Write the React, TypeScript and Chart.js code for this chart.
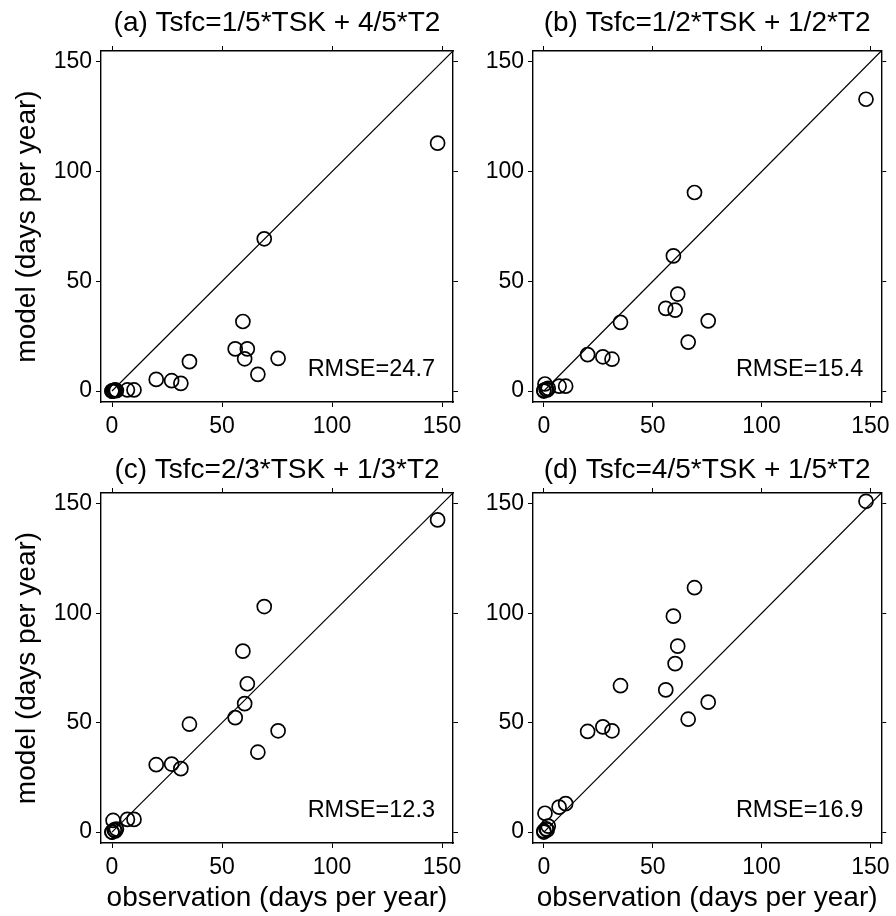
import React, { useEffect, useRef } from "react";
import { Chart, registerables } from "chart.js";

Chart.register(...registerables);

// Observed annual days, one entry per station
const observed = [148, 69.2, 59.5, 61.5, 60.3, 56, 35.2, 75.5, 66.3, 20.1, 27.1, 31.3, 10, 7, 0.5, 0, 1, 2, 0, 1.5];

// Modelled annual days for each blending of TSK and T2 (same station order)
const modelA = [113, 69.4, 31.7, 19.2, 14.7, 19.2, 13.4, 14.9, 7.6, 5.3, 4.7, 3.5, 0.5, 0.5, 0, 0, 0.3, 0.2, 0, 0.5];
const modelB = [133, 90.5, 61.6, 44.2, 36.9, 37.7, 31.3, 32.0, 22.3, 16.6, 15.6, 14.5, 2.2, 2.2, 3.2, 0.3, 0.8, 1.2, 0, 0.5];
const modelC = [142.7, 103.1, 82.7, 67.8, 58.7, 52.3, 49.3, 46.3, 36.5, 30.8, 31.1, 29.0, 5.8, 5.8, 5.3, 0, 1, 1.4, 0, 0.5];
const modelD = [151.2, 111.7, 98.7, 85.0, 77.0, 65.0, 66.9, 59.4, 51.6, 46.0, 48.1, 46.3, 13, 11.4, 8.6, 0.5, 1.5, 2.7, 0, 1];

const panelTitles = [
  "(a) Tsfc=1/5*TSK + 4/5*T2",
  "(b) Tsfc=1/2*TSK + 1/2*T2",
  "(c) Tsfc=2/3*TSK + 1/3*T2",
  "(d) Tsfc=4/5*TSK + 1/5*T2",
];
const rmseLabels = ["RMSE=24.7", "RMSE=15.4", "RMSE=12.3", "RMSE=16.9"];

const tickValues = [0, 50, 100, 150];
const axisRange = [-5, 155];
const diagonalEnds = [0, 155];

const xTitle = "observation (days per year)";
const yTitle = "model (days per year)";

const FONT = "'Liberation Sans', Arial, Helvetica, sans-serif";

type PanelSpec = {
  left: number;
  top: number;
  width: number;
  height: number;
  model: number[];
  title: string;
  rmse: string;
  yAxisWidth: number;
  rightGap: number;
  headTop: number;
  headBottom: number;
  xAxisHeight: number;
  showYTitle: boolean;
  showXTitle: boolean;
};

const rmsePlugin = {
  id: "rmseLabel",
  afterDatasetsDraw(chart: any, _args: any, opts: any) {
    const { ctx, chartArea } = chart;
    ctx.save();
    ctx.font = `23.5px ${FONT}`;
    ctx.fillStyle = "#000";
    ctx.textAlign = "right";
    ctx.textBaseline = "middle";
    ctx.fillText(opts.text, chartArea.right - 18, chartArea.bottom - 32);
    ctx.restore();
  },
};

function baseAxis(position: string) {
  return {
    type: "linear",
    position,
    min: axisRange[0],
    max: axisRange[1],
    afterBuildTicks: (s: any) => {
      s.ticks = tickValues.map((v) => ({ value: v }));
    },
    grid: {
      display: true,
      drawOnChartArea: false,
      drawTicks: true,
      tickLength: 5,
      color: "#000",
      lineWidth: 1,
    },
    border: { display: true, color: "#000", width: 1.4 },
  };
}

function buildConfig(spec: PanelSpec): any {
  const points = observed.map((x, i) => ({ x, y: spec.model[i] }));
  const diagonal = diagonalEnds.map((v) => ({ x: v, y: v }));
  return {
    type: "scatter",
    data: {
      datasets: [
        {
          type: "line",
          data: diagonal,
          borderColor: "#000",
          borderWidth: 1.2,
          pointRadius: 0,
          fill: false,
        },
        {
          type: "scatter",
          data: points,
          pointStyle: "circle",
          pointRadius: 7,
          pointBorderWidth: 1.7,
          borderColor: "#000",
          backgroundColor: "rgba(0,0,0,0)",
          pointBackgroundColor: "rgba(0,0,0,0)",
        },
      ],
    },
    options: {
      responsive: false,
      animation: false,
      events: [],
      layout: { padding: 0 },
      plugins: {
        legend: { display: false },
        tooltip: { enabled: false },
        title: {
          display: true,
          text: spec.title,
          fullSize: false,
          color: "#000",
          font: { family: FONT, size: 28, weight: "normal", lineHeight: 1.2 },
          padding: { top: spec.headTop, bottom: spec.headBottom },
        },
        rmseLabel: { text: spec.rmse },
      },
      scales: {
        x: {
          ...baseAxis("bottom"),
          afterFit: (s: any) => {
            s.height = spec.xAxisHeight;
          },
          ticks: {
            color: "#000",
            padding: 6,
            maxRotation: 0,
            font: { family: FONT, size: 23 },
          },
          title: {
            display: spec.showXTitle,
            text: xTitle,
            color: "#000",
            font: { family: FONT, size: 28, lineHeight: 1.2 },
            padding: { top: 0, bottom: 1.1 },
          },
        },
        y: {
          ...baseAxis("left"),
          afterFit: (s: any) => {
            s.width = spec.yAxisWidth;
          },
          ticks: {
            color: "#000",
            padding: 4,
            font: { family: FONT, size: 23 },
          },
          title: {
            display: spec.showYTitle,
            text: yTitle,
            color: "#000",
            font: { family: FONT, size: 28, lineHeight: 1.2 },
            padding: { top: 10.8, bottom: 0 },
          },
        },
        x2: {
          ...baseAxis("top"),
          afterFit: (s: any) => {
            s.height = 5;
          },
          ticks: { display: false },
        },
        y2: {
          ...baseAxis("right"),
          afterFit: (s: any) => {
            s.width = spec.rightGap;
          },
          ticks: { display: false },
        },
      },
    },
    plugins: [rmsePlugin],
  };
}

const panels: PanelSpec[] = [
  {
    left: 0, top: 0, width: 470, height: 452,
    model: modelA, title: panelTitles[0], rmse: rmseLabels[0],
    yAxisWidth: 101, rightGap: 17, headTop: 6, headBottom: 6.4, xAxisHeight: 50,
    showYTitle: true, showXTitle: false,
  },
  {
    left: 470, top: 0, width: 426, height: 452,
    model: modelB, title: panelTitles[1], rmse: rmseLabels[1],
    yAxisWidth: 63, rightGap: 11.5, headTop: 6, headBottom: 6.4, xAxisHeight: 50,
    showYTitle: false, showXTitle: false,
  },
  {
    left: 0, top: 452, width: 470, height: 464,
    model: modelC, title: panelTitles[2], rmse: rmseLabels[2],
    yAxisWidth: 101, rightGap: 17, headTop: 1.5, headBottom: 0.9, xAxisHeight: 73,
    showYTitle: true, showXTitle: true,
  },
  {
    left: 470, top: 452, width: 426, height: 464,
    model: modelD, title: panelTitles[3], rmse: rmseLabels[3],
    yAxisWidth: 63, rightGap: 11.5, headTop: 1.5, headBottom: 0.9, xAxisHeight: 73,
    showYTitle: false, showXTitle: true,
  },
];

function Panel({ spec }: { spec: PanelSpec }) {
  const ref = useRef<HTMLCanvasElement | null>(null);
  useEffect(() => {
    if (!ref.current) return;
    const chart = new Chart(ref.current, buildConfig(spec));
    return () => chart.destroy();
  }, [spec]);
  return (
    <canvas
      ref={ref}
      width={spec.width}
      height={spec.height}
      style={{
        position: "absolute",
        left: spec.left,
        top: spec.top,
        width: spec.width,
        height: spec.height,
      }}
    />
  );
}

export default function App() {
  return (
    <div
      style={{
        position: "absolute",
        left: 0,
        top: 0,
        width: 896,
        height: 916,
        background: "#fff",
      }}
    >
      {panels.map((p) => (
        <Panel key={p.title} spec={p} />
      ))}
    </div>
  );
}
